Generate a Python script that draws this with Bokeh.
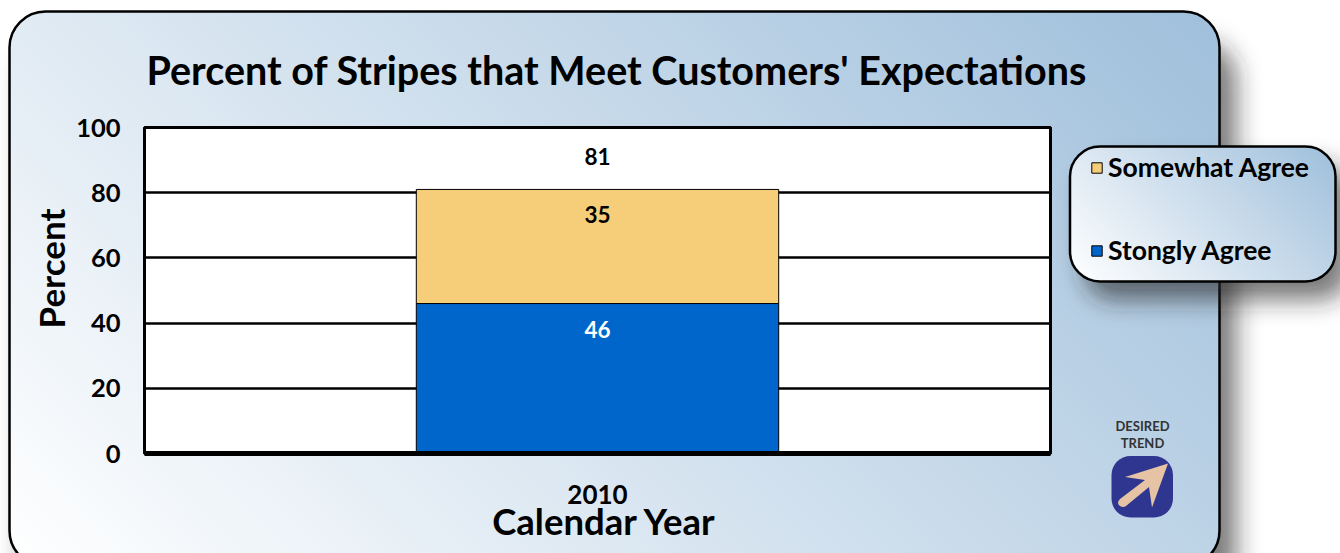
from urllib.parse import quote
from math import pi
from bokeh.plotting import figure
from bokeh.embed import file_html
from bokeh.resources import INLINE
from bokeh.models import FactorRange, Range1d, FixedTicker, Legend, LegendItem, Label, ColumnDataSource, Title
from bokeh.core.properties import value

years = ["2010"]
strongly_agree = [46]
somewhat_agree = [35]
totals = [81]
y_ticks = [0, 20, 40, 60, 80, 100]
FONT = "Lato"

W, H = 1340, 553

svg = f'''<svg xmlns="http://www.w3.org/2000/svg" width="{W}" height="{H}" viewBox="0 0 {W} {H}">
<defs>
<linearGradient id="g" gradientUnits="userSpaceOnUse" x1="9" y1="566" x2="891" y2="-316">
<stop offset="0" stop-color="#ffffff"/><stop offset="1" stop-color="#9fbfdb"/></linearGradient>
<linearGradient id="h" gradientUnits="userSpaceOnUse" x1="1070" y1="282" x2="1270" y2="82">
<stop offset="0" stop-color="#ffffff"/><stop offset="1" stop-color="#9fbfdb"/></linearGradient>
<filter id="s" x="-20%" y="-20%" width="150%" height="150%"><feGaussianBlur stdDeviation="12"/></filter>
</defs>
<rect x="24" y="42" width="1212" height="555" rx="36" fill="#222" fill-opacity=".62" filter="url(#s)"/>
<rect x="9.5" y="11.5" width="1210" height="555" rx="36" fill="url(#g)" stroke="#000" stroke-width="2.5"/>
<rect x="1084" y="164" width="266" height="136" rx="30" fill="#222" fill-opacity=".62" filter="url(#s)"/>
<rect x="1070" y="146.5" width="265.5" height="135" rx="30" fill="url(#h)" stroke="#000" stroke-width="2.5"/>
<rect x="1111.5" y="456" width="61.5" height="61.5" rx="19" fill="#2e3690"/>
<path d="M1168 463.5 L1125 477 L1145 480 L1120 499 Q1116 503 1120 506 Q1123 508 1126 506 L1149 487 L1152 507.5 Z" fill="#e6c3a5"/>
</svg>'''
bg = "url(\"data:image/svg+xml," + quote(svg, safe="") + "\")"

p = figure(
    width=W, height=H, frame_width=906, frame_height=326, output_backend="svg", toolbar_location=None,
    x_range=FactorRange(factors=years, range_padding=0),
    y_range=Range1d(0, 100),
    min_border_left=144, min_border_right=290, min_border_top=127, min_border_bottom=100,
    background_fill_color="white", border_fill_alpha=0,
    outline_line_color="black", outline_line_width=3,
    styles={"background-image": bg, "background-repeat": "no-repeat"},
)
p.add_layout(Title(text="Percent of Stripes that Meet Customers' Expectations",
                   text_font=FONT, text_font_size="39.5px", text_font_style="bold",
                   text_color="black", align="left", offset=2, standoff=69), "above")

src = ColumnDataSource(dict(year=years, strong=strongly_agree, somewhat=somewhat_agree))
r = p.vbar_stack(["strong", "somewhat"], x="year", width=0.4, source=src,
                 fill_color=["#0066CC", "#F6CE79"], line_color="black", line_width=1)

p.xgrid.visible = False
p.ygrid.ticker = FixedTicker(ticks=y_ticks[1:-1])
p.ygrid.grid_line_color = "black"
p.ygrid.grid_line_width = 2.5

p.yaxis.ticker = FixedTicker(ticks=y_ticks)
p.yaxis.major_tick_line_color = None
p.yaxis.minor_tick_line_color = None
p.yaxis.axis_line_color = "black"
p.yaxis.axis_line_width = 3
p.yaxis.major_label_standoff = 18
p.yaxis.major_label_text_font = FONT
p.yaxis.major_label_text_font_size = "25.5px"
p.yaxis.major_label_text_font_style = "bold"
p.yaxis.major_label_text_color = "black"

p.xaxis.major_tick_line_color = None
p.xaxis.axis_line_color = "black"
p.xaxis.axis_line_width = 5
p.xaxis.major_label_standoff = 25
p.xaxis.major_label_text_font = FONT
p.xaxis.major_label_text_font_size = "26px"
p.xaxis.major_label_text_font_style = "bold"
p.xaxis.major_label_text_color = "black"

# value labels
top_strong = [strongly_agree[0]]
top_some = [strongly_agree[0] + somewhat_agree[0]]
lab_kw = dict(text_font=value(FONT), text_font_size="22.5px", text_font_style="bold",
              text_align="center", text_baseline="middle")
p.text(x=years, y=top_strong, text=[str(v) for v in strongly_agree], y_offset=26, text_color="white", **lab_kw)
p.text(x=years, y=top_some, text=[str(v) for v in somewhat_agree], y_offset=25, text_color="black", **lab_kw)
p.text(x=years, y=totals, text=[str(v) for v in totals], y_offset=-33, text_color="black", **lab_kw)

# legend
leg = Legend(items=[LegendItem(label="Somewhat Agree", renderers=[r[1]]),
                    LegendItem(label="Stongly Agree", renderers=[r[0]])],
             location=(40, 187), orientation="vertical",
             background_fill_alpha=0, border_line_color=None, padding=0, margin=0,
             spacing=51, glyph_width=13, glyph_height=13, label_standoff=5,
             label_text_font=FONT, label_text_font_size="26.5px", label_text_font_style="bold",
             label_text_color="black", label_height=29)
p.add_layout(leg, "right")

def lab(text, x, y, size, side, angle=0, color="black"):
    p.add_layout(Label(x=x, y=y, x_units="canvas", y_units="canvas", text=text,
                       text_font=FONT, text_font_size=size, text_font_style="bold",
                       text_color=color, text_align="center", text_baseline="middle", angle=angle), side)

lab("Percent", 50, 268, "35px", "left", angle=pi/2)
lab("Calendar Year", 604, 520, "36.5px", "below")
lab("DESIRED", 1142, 425, "13px", "below", color="#333333")
lab("TREND", 1142, 442, "13px", "below", color="#333333")

open("out.html", "w").write(file_html(p, INLINE))
